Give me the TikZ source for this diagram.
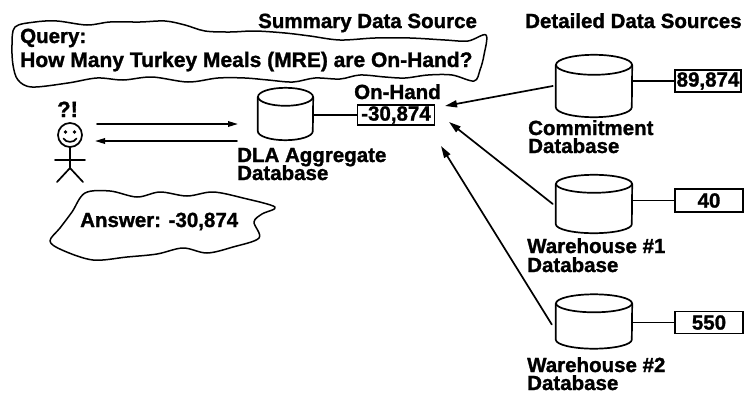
\documentclass[tikz,border=0pt]{standalone}
\usepackage{fontspec}
\setmainfont{Liberation Sans}[BoldFeatures={FakeBold=1.3}]
\usetikzlibrary{arrows.meta,calc}

\tikzset{
  ink/.style={line width=1.7pt, line join=round, line cap=round},
  label/.style={font=\bfseries\fontsize{20.5}{19}\selectfont, inner sep=0pt, anchor=base west},
  valbox/.style={draw, line width=1.7pt, font=\bfseries\fontsize{20.5}{19}\selectfont, inner sep=0pt},
  dbbox/.style={inner sep=0pt, minimum width=76pt},
  flow/.style={ink, -{Triangle[length=12pt,width=7pt]}},
  userflow/.style={ink, -{Triangle[length=10pt,width=5.5pt]}},
  blob/.style={ink, line width=1.5pt},
}

% database cylinder drawn round an invisible node: name, x radius, y radius of the ends
\newcommand\dbdraw[3]{%
  \draw[ink] ([yshift=-#3]#1.north west) -- ([yshift=#3]#1.south west)
    arc[start angle=180, end angle=360, x radius=#2, y radius=#3]
    -- ([yshift=-#3]#1.north east);
  \draw[ink] ([yshift=-#3]#1.north) ellipse [x radius=#2, y radius=#3];
}

\begin{document}
\begin{tikzpicture}[x=1pt, y=-1pt]
\useasboundingbox (0,0) rectangle (745,394);

% headings
\node[label] (hsum) at (258,28) {Summary Data Source};
\node[label] (hdet) at (525,28) {Detailed Data Sources};

% query balloon
\draw[blob] plot[smooth cycle, tension=0.55] coordinates {
  (15,27) (35,22) (57,21) (87,25) (110,22) (140,22) (165,21) (185,25)
  (205,31) (230,32) (255,31) (285,33) (310,36) (340,40) (375,38) (410,38)
  (445,40) (468,41) (486,35) (484,55) (480,70) (474,81) (452,75) (428,75)
  (405,78) (385,77) (360,75) (340,79) (315,78) (293,82) (268,80) (245,78)
  (218,78) (188,82) (152,77) (123,80) (97,78) (68,83) (32,87) (18,80)
  (13,65) (12,45)};
\node[label] (q1) at (20,43) {Query:};
\node[label, font=\bfseries\fontsize{21}{19}\selectfont] (q2) at (20,67) {How Many Turkey Meals (MRE) are On-Hand?};

% the user
\node[inner sep=0pt, minimum width=30pt, minimum height=84pt] (user) at (70,141) {};
\node[label, font=\bfseries\fontsize{22}{19}\selectfont] (bang) at (57,117) {?!};
\draw[ink] (70,135) circle [radius=12pt];
\fill (65.5,132) circle [radius=1.8pt];
\fill (74.5,132) circle [radius=1.8pt];
\draw[ink] (63.5,138.5) .. controls (66,143) and (74,143) .. (76.5,138.5);
\draw[ink] (70,147) -- (70,168);
\draw[ink] (55,160) -- (85,160);
\draw[ink] (57,182) -- (70,168) -- (83,182);

% answer balloon
\draw[blob] plot[smooth cycle, tension=0.55] coordinates {
  (85,193) (110,191) (137,197) (160,192) (187,196) (213,192) (243,198)
  (275,207) (262,214) (254,222) (259,238) (233,247) (207,253) (183,248)
  (157,254) (127,257) (93,260) (62,250) (50,241) (60,228) (72,212)};
\node[label] (ans) at (80,227) {Answer: -30,874};

% summary database
\node[dbbox, minimum width=55pt, minimum height=52pt] (dla) at (285.5,114) {};
\dbdraw{dla}{27.5pt}{9pt}
\node[label] (dla1) at (237,162) {DLA Aggregate};
\node[label] (dla2) at (237,180) {Database};
\node[label] (onh) at (354,99) {On-Hand};
\node[valbox, minimum width=77pt, minimum height=20pt] (vsum) at (396,115) {-30,874};
\draw[ink] (dla.east |- vsum.west) -- (vsum.west);

% request and reply between user and summary database
\coordinate (askA) at (97,124);
\coordinate (askB) at (238,124);
\coordinate (repA) at (237,141);
\coordinate (repB) at (95,141);
\draw[userflow] (askA) -- (askB);
\draw[userflow] (repA) -- (repB);

% detailed databases
\node[dbbox, minimum height=62pt] (com) at (594,86) {};
\dbdraw{com}{38pt}{10pt}
\node[label] (com1) at (528,135) {Commitment};
\node[label] (com2) at (528,153) {Database};
\node[valbox, minimum width=66pt, minimum height=22pt] (vcom) at (708,81) {89,874};
\draw[ink] (com.east |- vcom.west) -- (vcom.west);

\node[dbbox, minimum height=58pt] (wh1) at (594,204) {};
\dbdraw{wh1}{38pt}{9pt}
\node[label] (wa1) at (527,253) {Warehouse \#1};
\node[label] (wa2) at (527,272) {Database};
\node[valbox, minimum width=68pt, minimum height=23pt] (vwh1) at (709,200.5) {40};
\draw[ink] (wh1.east |- vwh1.west) -- (vwh1.west);

\node[dbbox, minimum height=54pt] (wh2) at (594,321.5) {};
\dbdraw{wh2}{38pt}{9pt}
\node[label] (wb1) at (527,372) {Warehouse \#2};
\node[label] (wb2) at (527,390) {Database};
\node[valbox, minimum width=68pt, minimum height=22pt] (vwh2) at (709,322.5) {550};
\draw[ink] (wh2.east |- vwh2.west) -- (vwh2.west);

% feeds into the summary figure
\coordinate (tipA) at (445,106);
\coordinate (tipB) at (449,122);
\coordinate (tipC) at (441,146);
\draw[flow] ([xshift=-3pt]com.west) -- (tipA);
\draw[flow] ([xshift=-3pt]wh1.west) -- (tipB);
\draw[flow] ([xshift=-4pt,yshift=-3pt]wh2.west) -- (tipC);
\end{tikzpicture}
\end{document}
